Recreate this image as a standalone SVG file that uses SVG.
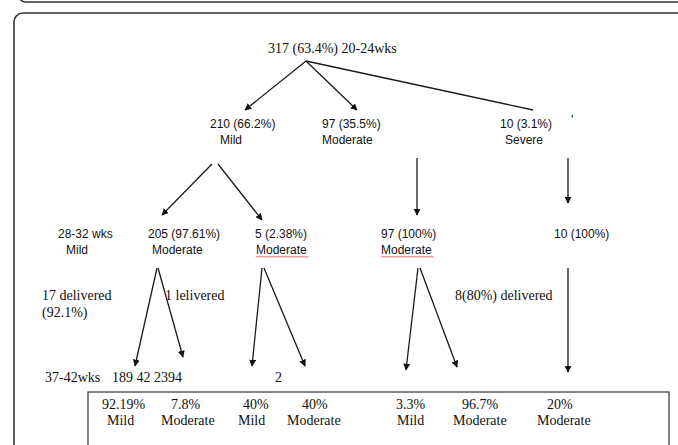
<svg xmlns="http://www.w3.org/2000/svg" width="678" height="445" viewBox="0 0 678 445">
<style>
.s{font-family:"Liberation Serif","Times New Roman",serif;font-size:14px;fill:#111}
.a{font-family:"Liberation Sans",Arial,sans-serif;font-size:12px;fill:#111}
.ln{stroke:#1a1a1a;stroke-width:1.3;fill:none}
.ar{marker-end:url(#h)}
.wv{stroke:#d33;stroke-width:0.8;fill:none}
.fr{fill:none;stroke:#333;stroke-width:1.6}
</style>
<defs>
<marker id="h" viewBox="0 0 10 10" refX="9" refY="5" markerWidth="7" markerHeight="7" markerUnits="userSpaceOnUse" orient="auto">
<path d="M0,0 L10,5 L0,10 z" fill="#111"/>
</marker>
</defs>
<rect width="678" height="445" fill="#fff"/>
<rect class="fr" x="18" y="-40" width="700" height="42" rx="8"/>
<rect class="fr" x="14" y="13" width="700" height="460" rx="9"/>
<rect x="88" y="392" width="581" height="80" fill="none" stroke="#333" stroke-width="1.2"/>

<g id="connectors">
<line class="ln ar" x1="306" y1="61" x2="245" y2="110"/>
<line class="ln ar" x1="306" y1="61" x2="357" y2="110"/>
<line class="ln" x1="306" y1="61" x2="533" y2="110"/>
<line class="ln ar" x1="417" y1="158" x2="417" y2="215"/>
<line class="ln ar" x1="568" y1="158" x2="568" y2="203"/>
<line class="ln ar" x1="212" y1="164" x2="162" y2="215"/>
<line class="ln ar" x1="218" y1="164" x2="262" y2="220"/>
<line class="ln ar" x1="157" y1="268" x2="135" y2="366"/>
<line class="ln ar" x1="158" y1="268" x2="183" y2="357"/>
<line class="ln ar" x1="262" y1="268" x2="252" y2="366"/>
<line class="ln ar" x1="264" y1="268" x2="305" y2="366"/>
<line class="ln ar" x1="418" y1="268" x2="406" y2="370"/>
<line class="ln ar" x1="420" y1="268" x2="457" y2="367"/>
<line class="ln ar" x1="568" y1="268" x2="568" y2="372"/>
</g>

<g id="root"><text class="s" x="268" y="53">317 (63.4%) 20-24wks</text></g>
<g id="mild1"><text class="a" x="210" y="128">210 (66.2%)</text><text class="a" x="220" y="144">Mild</text></g>
<g id="mod1"><text class="a" x="322" y="128">97 (35.5%)</text><text class="a" x="322" y="144">Moderate</text></g>
<g id="sev1"><text class="a" x="500" y="128">10 (3.1%)</text><text class="a" x="505" y="144">Severe</text><text class="a" x="571" y="124" font-size="8">'</text></g>

<g id="wks2832"><text class="a" x="58" y="238">28-32 wks</text><text class="a" x="66" y="254">Mild</text></g>
<g id="mod205"><text class="a" x="148" y="238">205 (97.61%)</text><text class="a" x="152" y="254">Moderate</text></g>
<g id="mod5"><text class="a" x="255" y="238">5 (2.38%)</text><text class="a" x="256" y="254">Moderate</text>
<path class="wv" d="M256,257.5 l1.5,-1.5 l1.5,1.5 l1.5,-1.5 l1.5,1.5 l1.5,-1.5 l1.5,1.5 l1.5,-1.5 l1.5,1.5 l1.5,-1.5 l1.5,1.5 l1.5,-1.5 l1.5,1.5 l1.5,-1.5 l1.5,1.5 l1.5,-1.5 l1.5,1.5 l1.5,-1.5 l1.5,1.5 l1.5,-1.5 l1.5,1.5 l1.5,-1.5 l1.5,1.5 l1.5,-1.5 l1.5,1.5 l1.5,-1.5 l1.5,1.5 l1.5,-1.5 l1.5,1.5 l1.5,-1.5 l1.5,1.5 l1.5,-1.5 l1.5,1.5 l1.5,-1.5 l1.5,1.5 l1.5,-1.5"/></g>
<g id="mod97"><text class="a" x="381" y="238">97 (100%)</text><text class="a" x="381" y="254">Moderate</text>
<path class="wv" d="M381,257.5 l1.5,-1.5 l1.5,1.5 l1.5,-1.5 l1.5,1.5 l1.5,-1.5 l1.5,1.5 l1.5,-1.5 l1.5,1.5 l1.5,-1.5 l1.5,1.5 l1.5,-1.5 l1.5,1.5 l1.5,-1.5 l1.5,1.5 l1.5,-1.5 l1.5,1.5 l1.5,-1.5 l1.5,1.5 l1.5,-1.5 l1.5,1.5 l1.5,-1.5 l1.5,1.5 l1.5,-1.5 l1.5,1.5 l1.5,-1.5 l1.5,1.5 l1.5,-1.5 l1.5,1.5 l1.5,-1.5 l1.5,1.5 l1.5,-1.5 l1.5,1.5 l1.5,-1.5 l1.5,1.5 l1.5,-1.5"/></g>
<g id="sev10"><text class="a" x="554" y="238">10 (100%)</text></g>

<g id="del17"><text class="s" x="42" y="300">17 delivered</text><text class="s" x="42" y="317">(92.1%)</text></g>
<g id="del1"><text class="s" x="165" y="300">1 lelivered</text></g>
<g id="del8"><text class="s" x="455" y="300">8(80%) delivered</text></g>

<g id="wks3742"><text class="s" x="45" y="382">37-42wks</text><text class="s" x="112" y="382">189 42 2394</text></g>
<g id="two"><text class="s" x="275" y="382">2</text></g>

<g id="r1"><text class="s" x="102" y="409">92.19%</text><text class="s" x="107" y="425">Mild</text></g>
<g id="r2"><text class="s" x="171" y="409">7.8%</text><text class="s" x="161" y="425">Moderate</text></g>
<g id="r3"><text class="s" x="243" y="409">40%</text><text class="s" x="238" y="425">Mild</text></g>
<g id="r4"><text class="s" x="302" y="409">40%</text><text class="s" x="287" y="425">Moderate</text></g>
<g id="r5"><text class="s" x="396" y="409">3.3%</text><text class="s" x="397" y="425">Mild</text></g>
<g id="r6"><text class="s" x="462" y="409">96.7%</text><text class="s" x="453" y="425">Moderate</text></g>
<g id="r7"><text class="s" x="547" y="409">20%</text><text class="s" x="537" y="425">Moderate</text></g>
</svg>
